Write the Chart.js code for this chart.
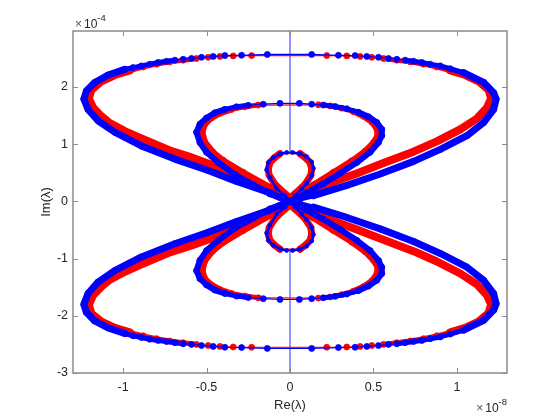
<!DOCTYPE html>
<html>
<head>
<meta charset="utf-8">
<script src="https://cdn.jsdelivr.net/npm/chart.js@4.4.0/dist/chart.umd.min.js"></script>
<style>
  html, body { margin: 0; background: #fff; }
</style>
</head>
<body>
<canvas id="eigChart" width="560" height="420"></canvas>
<script>
// ─── Data (x in units of 1e-8, y in units of 1e-4) ──────────────────────
const xTicks = [-1, -0.5, 0, 0.5, 1];
const yTicks = [-3, -2, -1, 0, 1, 2];

// outer loop, upper lobe
const blueOuterTop = [[0,0],[-0.06,0.07],[-0.13,0.16],[-0.32,0.35],[-0.49,0.54],[-0.69,0.74],[-0.89,0.97],[-1.05,1.21],[-1.15,1.41],[-1.21,1.61],[-1.235,1.79],[-1.22,1.93],[-1.17,2.08],[-1.09,2.21],[-0.99,2.31],[-0.94,2.34],[-0.89,2.37],[-0.84,2.40],[-0.79,2.43],[-0.74,2.45],[-0.69,2.47],[-0.64,2.485],[-0.59,2.50],[-0.53,2.52],[-0.46,2.535],[-0.39,2.55],[-0.29,2.555],[-0.136,2.57],[0.13,2.57],[0.29,2.555],[0.39,2.55],[0.46,2.535],[0.53,2.52],[0.59,2.50],[0.64,2.485],[0.69,2.47],[0.74,2.45],[0.79,2.43],[0.84,2.40],[0.90,2.37],[0.96,2.32],[1.04,2.25],[1.16,2.08],[1.22,1.90],[1.235,1.79],[1.22,1.61],[1.16,1.38],[1.06,1.15],[0.90,0.91],[0.74,0.70],[0.54,0.48],[0.34,0.28],[0.14,0.10],[0.06,0.04],[0,0]];
const redOuterTop = [[0,0.03],[-0.06,0.13],[-0.22,0.35],[-0.42,0.59],[-0.59,0.77],[-0.72,0.89],[-0.89,1.10],[-0.99,1.23],[-1.08,1.37],[-1.13,1.49],[-1.18,1.64],[-1.205,1.80],[-1.19,1.95],[-1.13,2.10],[-1.05,2.21],[-0.96,2.29],[-0.88,2.35],[-0.80,2.40],[-0.72,2.44],[-0.64,2.47],[-0.56,2.50],[-0.49,2.52],[-0.42,2.535],[-0.34,2.545],[-0.23,2.55],[0.22,2.55],[0.34,2.545],[0.42,2.535],[0.49,2.52],[0.56,2.50],[0.64,2.47],[0.72,2.44],[0.80,2.40],[0.88,2.35],[0.96,2.29],[1.05,2.21],[1.13,2.10],[1.19,1.95],[1.205,1.80],[1.18,1.64],[1.12,1.45],[1.02,1.26],[0.88,1.05],[0.74,0.87],[0.56,0.67],[0.40,0.49],[0.22,0.30],[0.08,0.13],[0,0.03]];

// outer loop, lower lobe
const blueOuterBot = [[0,0],[-0.06,-0.07],[-0.13,-0.16],[-0.32,-0.35],[-0.49,-0.54],[-0.69,-0.74],[-0.89,-0.97],[-1.05,-1.21],[-1.15,-1.41],[-1.21,-1.61],[-1.235,-1.80],[-1.22,-1.94],[-1.17,-2.09],[-1.09,-2.21],[-0.99,-2.31],[-0.94,-2.35],[-0.89,-2.38],[-0.84,-2.41],[-0.79,-2.43],[-0.74,-2.45],[-0.69,-2.47],[-0.64,-2.49],[-0.59,-2.50],[-0.53,-2.52],[-0.46,-2.535],[-0.39,-2.55],[-0.29,-2.555],[-0.136,-2.57],[0.13,-2.57],[0.29,-2.555],[0.39,-2.55],[0.46,-2.535],[0.53,-2.52],[0.59,-2.50],[0.64,-2.49],[0.69,-2.47],[0.74,-2.45],[0.79,-2.43],[0.84,-2.40],[0.90,-2.37],[0.96,-2.32],[1.04,-2.25],[1.16,-2.08],[1.22,-1.90],[1.235,-1.79],[1.22,-1.61],[1.16,-1.38],[1.06,-1.15],[0.90,-0.91],[0.74,-0.70],[0.54,-0.48],[0.34,-0.28],[0.14,-0.10],[0.06,-0.04],[0,0]];
const redOuterBot = [[0,-0.03],[-0.06,-0.13],[-0.22,-0.35],[-0.42,-0.59],[-0.59,-0.77],[-0.72,-0.89],[-0.89,-1.10],[-0.99,-1.23],[-1.08,-1.37],[-1.13,-1.49],[-1.18,-1.64],[-1.205,-1.81],[-1.19,-1.96],[-1.13,-2.10],[-1.05,-2.21],[-0.96,-2.29],[-0.88,-2.35],[-0.80,-2.40],[-0.72,-2.44],[-0.64,-2.47],[-0.56,-2.50],[-0.49,-2.52],[-0.42,-2.535],[-0.34,-2.545],[-0.23,-2.55],[0.22,-2.55],[0.34,-2.545],[0.42,-2.535],[0.49,-2.52],[0.56,-2.50],[0.64,-2.47],[0.72,-2.44],[0.80,-2.40],[0.88,-2.35],[0.96,-2.29],[1.05,-2.21],[1.13,-2.10],[1.19,-1.95],[1.205,-1.80],[1.18,-1.64],[1.12,-1.45],[1.02,-1.26],[0.88,-1.05],[0.74,-0.87],[0.56,-0.67],[0.40,-0.49],[0.22,-0.30],[0.08,-0.13],[0,-0.03]];

// middle loop
const blueMidTop = [[0,0],[-0.12,0.13],[-0.22,0.29],[-0.32,0.45],[-0.43,0.68],[-0.50,0.86],[-0.54,1.03],[-0.56,1.21],[-0.54,1.35],[-0.50,1.46],[-0.45,1.55],[-0.39,1.61],[-0.32,1.655],[-0.25,1.68],[-0.16,1.70],[-0.06,1.715],[0.056,1.715],[0.13,1.70],[0.20,1.685],[0.27,1.66],[0.34,1.62],[0.41,1.56],[0.47,1.48],[0.52,1.38],[0.55,1.26],[0.55,1.15],[0.53,1.03],[0.48,0.86],[0.40,0.68],[0.30,0.49],[0.20,0.31],[0.10,0.15],[0,0]];
const redMidTop = [[0,0.03],[-0.12,0.25],[-0.28,0.51],[-0.40,0.72],[-0.46,0.86],[-0.51,1.04],[-0.525,1.21],[-0.51,1.35],[-0.47,1.46],[-0.42,1.54],[-0.35,1.61],[-0.27,1.655],[-0.19,1.685],[0.17,1.69],[0.24,1.67],[0.31,1.63],[0.38,1.57],[0.44,1.49],[0.49,1.39],[0.52,1.27],[0.525,1.15],[0.50,1.03],[0.45,0.88],[0.37,0.71],[0.26,0.51],[0.14,0.29],[0.06,0.14],[0,0.03]];
const blueMidBot = [[0,0],[-0.12,-0.13],[-0.22,-0.29],[-0.32,-0.45],[-0.43,-0.68],[-0.50,-0.86],[-0.54,-1.03],[-0.56,-1.21],[-0.54,-1.35],[-0.50,-1.46],[-0.45,-1.55],[-0.39,-1.61],[-0.32,-1.655],[-0.25,-1.68],[-0.16,-1.70],[-0.06,-1.715],[0.056,-1.715],[0.13,-1.70],[0.20,-1.685],[0.27,-1.66],[0.34,-1.62],[0.41,-1.56],[0.47,-1.48],[0.52,-1.38],[0.55,-1.26],[0.55,-1.15],[0.53,-1.03],[0.48,-0.86],[0.40,-0.68],[0.30,-0.49],[0.20,-0.31],[0.10,-0.15],[0,0]];
const redMidBot = [[0,-0.03],[-0.12,-0.25],[-0.28,-0.51],[-0.40,-0.72],[-0.46,-0.86],[-0.51,-1.04],[-0.525,-1.21],[-0.51,-1.35],[-0.47,-1.46],[-0.42,-1.54],[-0.35,-1.61],[-0.27,-1.655],[-0.19,-1.685],[0.17,-1.69],[0.24,-1.67],[0.31,-1.63],[0.38,-1.57],[0.44,-1.49],[0.49,-1.39],[0.52,-1.27],[0.525,-1.15],[0.50,-1.03],[0.45,-0.88],[0.37,-0.71],[0.26,-0.51],[0.14,-0.29],[0.06,-0.14],[0,-0.03]];

// inner loop
const blueInTop = [[0,0],[-0.03,0.10],[-0.08,0.22],[-0.12,0.42],[-0.14,0.55],[-0.13,0.68],[-0.10,0.77],[-0.06,0.83],[-0.02,0.857],[0.015,0.857],[0.06,0.835],[0.10,0.78],[0.13,0.69],[0.14,0.58],[0.13,0.45],[0.10,0.32],[0.07,0.22],[0.03,0.10],[0,0]];
const redInTop = [[0,0.06],[-0.04,0.16],[-0.09,0.30],[-0.125,0.46],[-0.13,0.57],[-0.12,0.68],[-0.09,0.77],[-0.06,0.835],[0.06,0.835],[0.09,0.77],[0.12,0.68],[0.13,0.57],[0.125,0.46],[0.09,0.30],[0.04,0.16],[0,0.06]];
const blueInBot = [[0,0],[-0.03,-0.10],[-0.08,-0.22],[-0.12,-0.42],[-0.14,-0.55],[-0.13,-0.68],[-0.10,-0.77],[-0.06,-0.83],[-0.02,-0.857],[0.015,-0.857],[0.06,-0.835],[0.10,-0.78],[0.13,-0.69],[0.14,-0.58],[0.13,-0.45],[0.10,-0.32],[0.07,-0.22],[0.03,-0.10],[0,0]];
const redInBot = [[0,-0.06],[-0.04,-0.16],[-0.09,-0.30],[-0.125,-0.46],[-0.13,-0.57],[-0.12,-0.68],[-0.09,-0.77],[-0.06,-0.835],[0.06,-0.835],[0.09,-0.77],[0.12,-0.68],[0.13,-0.57],[0.125,-0.46],[0.09,-0.30],[0.04,-0.16],[0,-0.06]];

// vertical guide on the imaginary axis
const guideTop = [[0,2.98],[0,0.857]];
const guideBot = [[0,-0.857],[0,-3]];

// ─── Style ──────────────────────────────────────────────────────────────
const BLUE = "#0000ff";
const RED = "#ff0000";
const TEXT = "#262626";
const FONT = "'Liberation Sans', Arial, sans-serif";

// band width per segment: flat runs (top of a loop) stay thin so the
// single markers show, steep runs become the dense marker band
function bandWidth(ctx, thick) {
  const dx = Math.abs(ctx.p1.x - ctx.p0.x);
  const dy = Math.abs(ctx.p1.y - ctx.p0.y);
  const s = dy / Math.max(dx, 0.01);
  if (s < 0.12) return 1.2;
  if (s < 0.3) return Math.min(5, thick);
  return thick;
}

function curve(points, color, thick, radius = 3) {
  return {
    data: points.map(([x, y]) => ({ x, y })),
    showLine: true,
    borderColor: color,
    backgroundColor: color,
    borderWidth: 1.2,
    borderCapStyle: "round",
    borderJoinStyle: "round",
    pointRadius: radius,
    pointBorderWidth: 0.8,
    pointBorderColor: color,
    pointBackgroundColor: color,
    tension: 0,
    segment: { borderWidth: (ctx) => bandWidth(ctx, thick) },
  };
}

function guide(points) {
  return {
    data: points.map(([x, y]) => ({ x, y })),
    showLine: true,
    borderColor: "#7b7bff",
    borderWidth: 1.6,
    pointRadius: 0,
  };
}

// ─── Axes box, inward ticks, labels (MATLAB look) ───────────────────────
const matlabAxes = {
  id: "matlabAxes",
  afterDraw(chart) {
    const { ctx, chartArea: a, scales } = chart;
    const xs = scales.x, ys = scales.y;
    ctx.save();
    ctx.strokeStyle = "#8a8a8a";
    ctx.lineWidth = 1.5;
    ctx.strokeRect(a.left, a.top, a.right - a.left, a.bottom - a.top);

    ctx.lineWidth = 1;
    ctx.beginPath();
    for (const v of xTicks) {
      const px = Math.round(xs.getPixelForValue(v)) + 0.5;
      ctx.moveTo(px, a.bottom); ctx.lineTo(px, a.bottom - 5);
      ctx.moveTo(px, a.top); ctx.lineTo(px, a.top + 5);
    }
    for (const v of yTicks) {
      const py = Math.round(ys.getPixelForValue(v)) + 0.5;
      ctx.moveTo(a.left, py); ctx.lineTo(a.left + 5, py);
      ctx.moveTo(a.right, py); ctx.lineTo(a.right - 5, py);
    }
    ctx.stroke();

    ctx.fillStyle = TEXT;
    ctx.font = `12.5px ${FONT}`;
    ctx.textAlign = "center";
    ctx.textBaseline = "top";
    for (const v of xTicks) {
      ctx.fillText(String(v), xs.getPixelForValue(v), a.bottom + 8);
    }
    ctx.textAlign = "right";
    ctx.textBaseline = "middle";
    for (const v of yTicks) {
      ctx.fillText(String(v), a.left - 5, ys.getPixelForValue(v));
    }

    // axis titles
    ctx.font = `13px ${FONT}`;
    ctx.textAlign = "center";
    ctx.fillText("Re(λ)", (a.left + a.right) / 2, 405);
    ctx.save();
    ctx.translate(46, (a.top + a.bottom) / 2);
    ctx.rotate(-Math.PI / 2);
    ctx.fillText("Im(λ)", 0, 0);
    ctx.restore();

    // exponent labels
    const expLabel = (x, base, sup, alignRight) => {
      ctx.textBaseline = "alphabetic";
      ctx.textAlign = "left";
      ctx.font = `12px ${FONT}`;
      const w1 = ctx.measureText("×").width;
      const w2 = ctx.measureText("10").width;
      ctx.font = `9.5px ${FONT}`;
      const w3 = ctx.measureText(sup).width;
      const x0 = alignRight ? x - (w1 + 2 + w2 + w3) : x;
      ctx.font = `12px ${FONT}`;
      ctx.fillStyle = "#555";
      ctx.fillText("×", x0, base);
      ctx.fillStyle = TEXT;
      ctx.fillText("10", x0 + w1 + 2, base);
      ctx.font = `9.5px ${FONT}`;
      ctx.fillText(sup, x0 + w1 + 2 + w2, base - 7);
    };
    expLabel(75, 28, "-4", false);
    expLabel(507, 412, "-8", true);
    ctx.restore();
  },
};

// ─── Chart ──────────────────────────────────────────────────────────────
// first dataset is painted last (on top)
const datasets = [
  curve(blueInTop, BLUE, 2.5, 2),
  curve(blueInBot, BLUE, 2.5, 2),
  curve(blueOuterTop, BLUE, 7),
  curve(blueOuterBot, BLUE, 7),
  curve(blueMidTop, BLUE, 6),
  curve(blueMidBot, BLUE, 6),
  curve(redInTop, RED, 7),
  curve(redInBot, RED, 7),
  curve(redOuterTop, RED, 8),
  curve(redOuterBot, RED, 8),
  curve(redMidTop, RED, 6),
  curve(redMidBot, RED, 6),
  guide(guideTop),
  guide(guideBot),
];

new Chart(document.getElementById("eigChart"), {
  type: "scatter",
  data: { datasets },
  plugins: [matlabAxes],
  options: {
    responsive: false,
    animation: false,
    events: [],
    layout: { padding: { left: 0, top: 31, right: 53, bottom: 0 } },
    plugins: { legend: { display: false }, tooltip: { enabled: false } },
    scales: {
      x: {
        type: "linear",
        min: -1.3,
        max: 1.3,
        grid: { display: false, drawTicks: false },
        border: { display: false },
        ticks: { display: false },
        afterBuildTicks: (s) => { s.ticks = xTicks.map((v) => ({ value: v })); },
        afterFit: (s) => { s.height = 47; },
      },
      y: {
        type: "linear",
        min: -3,
        max: 2.98,
        grid: { display: false, drawTicks: false },
        border: { display: false },
        ticks: { display: false },
        afterBuildTicks: (s) => { s.ticks = yTicks.map((v) => ({ value: v })); },
        afterFit: (s) => { s.width = 73; },
      },
    },
  },
});
</script>
</body>
</html>
